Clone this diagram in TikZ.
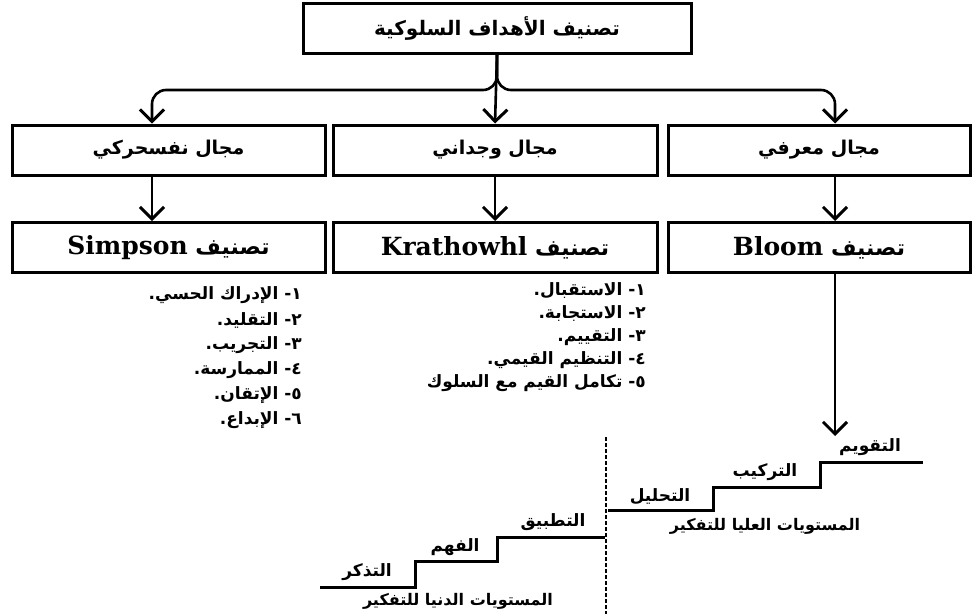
\documentclass[tikz,border=0pt]{standalone}
\usepackage{fontspec}
\usetikzlibrary{arrows.meta}
\TeXXeTstate=1
\newfontfamily\arabicfont[Script=Arabic]{DejaVu Sans}
\newfontfamily\latinfont{DejaVu Serif}
\newcommand{\artext}[1]{{\arabicfont\bfseries\beginR #1\endR}}
\newcommand{\latword}[1]{{\latinfont\bfseries\fontsize{25}{27}\selectfont\beginL #1\endL}}
\newcommand{\numdash}[1]{#1\hbox{-}}

\begin{document}
\begin{tikzpicture}[x=1pt,y=-1pt,
    box/.style={draw, line width=3pt, minimum height=50pt, inner sep=0pt, font=\fontsize{19}{21}\selectfont},
    link/.style={line width=2.6pt, -{Straight Barb[length=12pt,width=24pt,line width=3pt]}},
    item/.style={anchor=east, inner sep=0pt, font=\fontsize{17}{19}\selectfont},
    stair/.style={line width=3pt},
    lvl/.style={inner sep=0pt, font=\fontsize{17}{19}\selectfont}]
  \useasboundingbox (0,0) rectangle (973,614);
  % boxes
  \node[box, minimum width=388pt, font=\fontsize{20}{22}\selectfont] (title) at (497,28) {\artext{تصنيف الأهداف السلوكية}};
  \node[box, minimum width=313pt] (psy) at (168.5,150) {\artext{مجال نفسحركي}};
  \node[box, minimum width=324pt] (aff) at (495,150) {\artext{مجال وجداني}};
  \node[box, minimum width=302pt] (cog) at (819,150) {\artext{مجال معرفي}};
  \node[box, minimum width=313pt, font=\fontsize{22}{24}\selectfont] (simp) at (168.5,247.5) {\artext{تصنيف \latword{Simpson}}};
  \node[box, minimum width=324pt, font=\fontsize{22}{24}\selectfont] (krat) at (495,247.5) {\artext{تصنيف \latword{Krathowhl}}};
  \node[box, minimum width=302pt, font=\fontsize{22}{24}\selectfont] (bloom) at (819,247.5) {\artext{تصنيف \latword{Bloom}}};
  % arrows
  \coordinate (psyx) at (152,90);
  \coordinate (cogx) at (835,90);
  \coordinate (evalpt) at (835,436);
  \draw[link, rounded corners=14pt] (title.south) -- (title.south |- psyx) -- (psyx) -- (psy.north -| psyx);
  \draw[link, rounded corners=14pt] (title.south) -- (title.south |- cogx) -- (cogx) -- (cog.north -| cogx);
  \draw[link] (title.south) -- (aff.north);
  \draw[link] (psy.south -| psyx) -- (simp.north -| psyx);
  \draw[link] (aff.south) -- (krat.north);
  \draw[link] (cog.south -| cogx) -- (bloom.north -| cogx);
  \draw[link] (bloom.south -| cogx) -- (evalpt);
  % lists
  \foreach \n/\t [count=\i] in {١/الإدراك الحسي., ٢/التقليد., ٣/التجريب., ٤/الممارسة., ٥/الإتقان., ٦/الإبداع.}
    \node[item] (simp\i) at (302,270+25*\i) {\artext{\numdash{\n} \t}};
  \foreach \n/\t [count=\i] in {١/الاستقبال., ٢/الاستجابة., ٣/التقييم., ٤/التنظيم القيمي., ٥/تكامل القيم مع السلوك}
    \node[item] (krat\i) at (646,268+23*\i) {\artext{\numdash{\n} \t}};
  % stairs
  \draw[line width=2.6pt, dash pattern=on 4pt off 2pt] (606,437) -- (606,614);
  \draw[stair] (608,510) -- (713,510) -- (713,487) -- (820,487) -- (820,462) -- (923,462);
  \draw[stair] (320,587) -- (415,587) -- (415,561) -- (497,561) -- (497,537) -- (605,537);
  \node[lvl] (eval) at (870,447) {\artext{التقويم}};
  \node[lvl] (synth) at (765,472) {\artext{التركيب}};
  \node[lvl] (anal) at (660,497) {\artext{التحليل}};
  \node[lvl, font=\fontsize{16}{18}\selectfont] (high) at (765,526) {\artext{المستويات العليا للتفكير}};
  \node[lvl] (appl) at (553,522) {\artext{التطبيق}};
  \node[lvl] (comp) at (455,547) {\artext{الفهم}};
  \node[lvl] (know) at (367,572) {\artext{التذكر}};
  \node[lvl, font=\fontsize{16}{18}\selectfont] (low) at (458,601) {\artext{المستويات الدنيا للتفكير}};
\end{tikzpicture}
\end{document}
